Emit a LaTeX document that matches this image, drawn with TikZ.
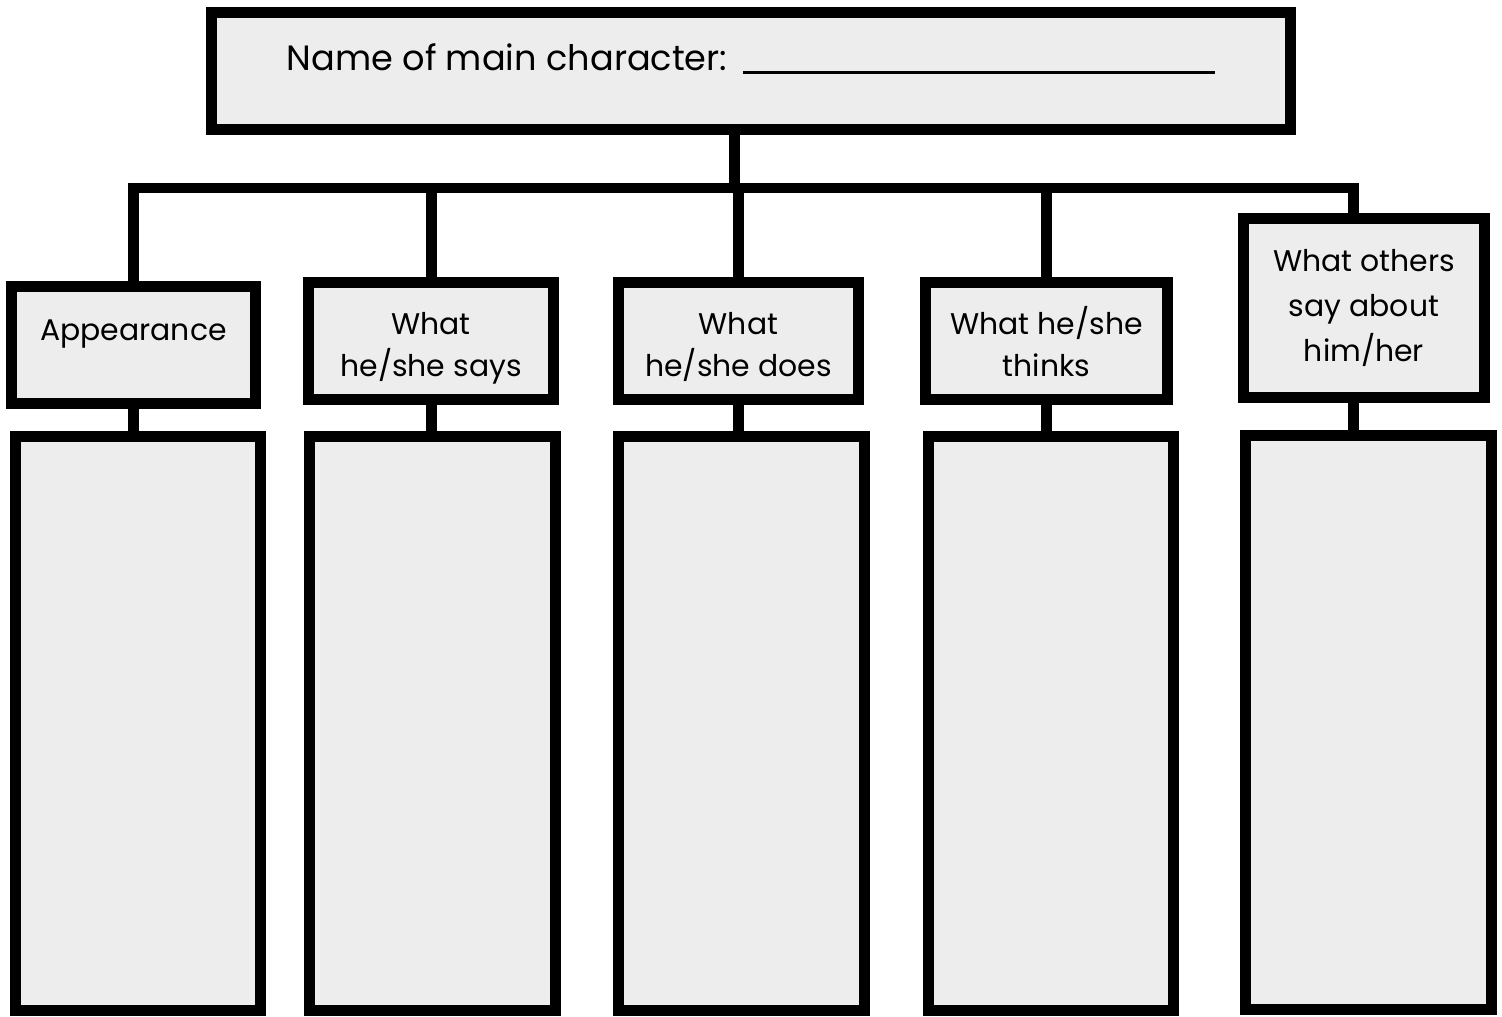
\documentclass[tikz,border=0pt]{standalone}
\usepackage{fontspec}
\setmainfont{Poppins}
\usetikzlibrary{positioning}
\definecolor{paper}{gray}{0.93}

\begin{document}
\begin{tikzpicture}
[x=0.02cm, y=-0.02cm, line width=0.22cm, line join=miter,
box/.style={draw, fill=paper, inner sep=0pt, outer sep=0pt, align=center},
topic/.style={box, minimum height=2.34cm, font=\fontsize{17}{24}\selectfont},
twoline/.style={text height=1.64cm, text depth=0.2cm},
column/.style={box, minimum width=4.92cm, minimum height=11.5cm}
]
  \useasboundingbox (0,0) rectangle (1502,1017);

  \node[box, minimum width=21.58cm, minimum height=2.34cm, text height=0.5cm, text depth=0.5cm,
        font=\fontsize{20}{24}\selectfont] (name) at (751,71)
        {Name of main character:\hspace{0.32cm}\rule[-0.06cm]{9.44cm}{0.05cm}};

  \node[topic, minimum width=4.88cm, text height=0.5cm, text depth=0.7cm] (look) at (133.5,345) {Appearance};
  \node[topic, twoline, minimum width=4.90cm] (says)   at (431,341)    {What\\he/she says};
  \node[topic, twoline, minimum width=4.80cm] (does)   at (738.5,341)  {What\\he/she does};
  \node[topic, twoline, minimum width=4.84cm] (thinks) at (1046.5,341) {What he/she\\thinks};
  \node[topic, minimum width=4.82cm, minimum height=3.58cm,
        font=\fontsize{17}{25.5}\selectfont] (others) at (1364,308) {What others\\say about\\him/her};

  \node[column] (c1) at (138,723.5)    {};
  \node[column] (c2) at (432.5,723.5)  {};
  \node[column] (c3) at (741.5,723.5)  {};
  \node[column] (c4) at (1051,723.5)   {};
  \node[column] (c5) at (1368.5,722.5) {};

  \coordinate (bus) at (734,188);

  \draw (look.north) |- (bus) -| ([xshift=-0.22cm]others.north);
  \path (name.south -| bus) edge (bus)
        (says.north)   edge (says.north |- bus)
        (does.north)   edge (does.north |- bus)
        (thinks.north) edge (thinks.north |- bus)
        (look.south)   edge (look.south |- c1.north)
        (says.south)   edge (says.south |- c2.north)
        (does.south)   edge (does.south |- c3.north)
        (thinks.south) edge (thinks.south |- c4.north)
        ([xshift=-0.22cm]others.south) edge ([xshift=-0.22cm]others.south |- c5.north)
        ;
\end{tikzpicture}
\end{document}
